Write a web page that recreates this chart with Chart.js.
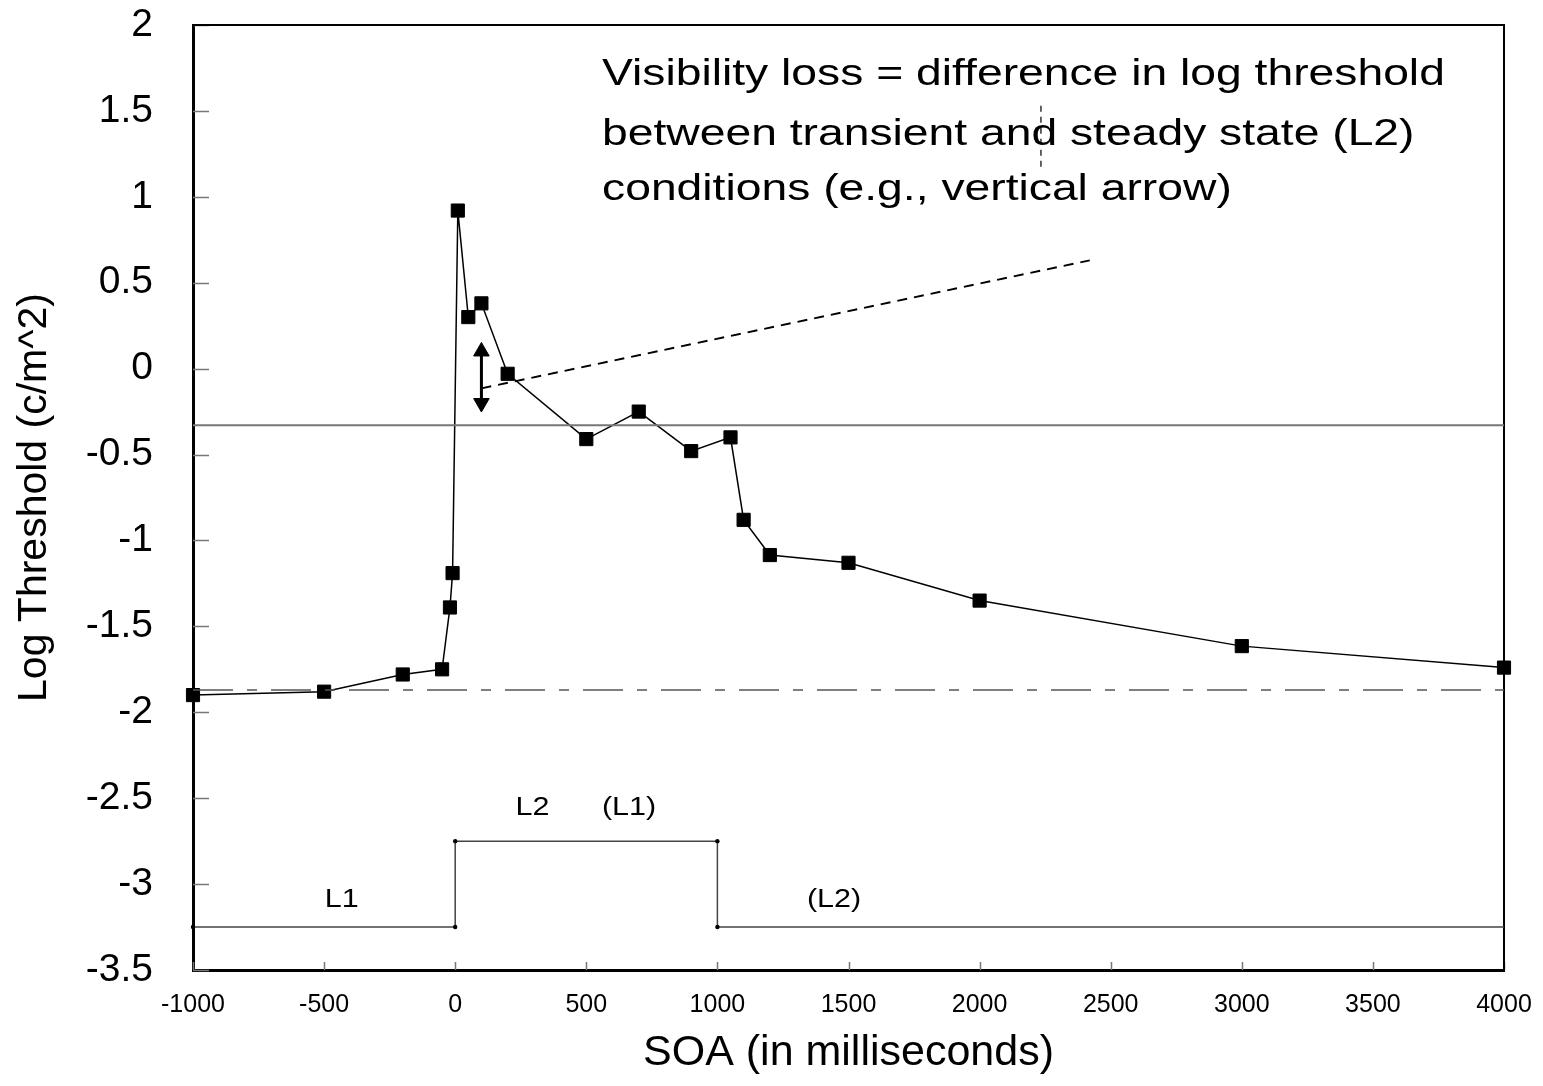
<!DOCTYPE html>
<html>
<head>
<meta charset="utf-8">
<script src="https://cdn.jsdelivr.net/npm/chart.js@4.4.1/dist/chart.umd.min.js"></script>
<style>
  html, body { margin: 0; padding: 0; background: #fff; }
  #wrap { width: 1543px; height: 1086px; }
</style>
</head>
<body>
<div id="wrap"><canvas id="chart"></canvas></div>
<script>
// measured threshold curve
const soa = [-1000, -500, -200, -50, -20, -10, 10, 50, 100, 200, 500, 700, 900, 1050, 1100, 1200, 1500, 2000, 3000, 4000];
const logThreshold = [-1.90, -1.88, -1.78, -1.75, -1.39, -1.19, 0.92, 0.30, 0.38, -0.03, -0.41, -0.25, -0.48, -0.40, -0.88, -1.085, -1.13, -1.35, -1.615, -1.74];

// stimulus time course (L1 / L2 step)
const stimulusX = [-1000, 0, 0, 1000, 1000, 4000];
const stimulusY = [-3.25, -3.25, -2.75, -2.75, -3.25, -3.25];

// reference lines
const steadyLevel = -0.33;
const baselineLevel = -1.87;
const trendX = [100, 2420];
const trendY = [-0.115, 0.63];
const arrowX = [100, 100];
const arrowY = [0.10, -0.20];
const markX = [2234, 2234];
const markY = [1.53, 1.17];

const xTicks = [-1000, -500, 0, 500, 1000, 1500, 2000, 2500, 3000, 3500, 4000];
const yTicks = [2, 1.5, 1, 0.5, 0, -0.5, -1, -1.5, -2, -2.5, -3, -3.5];

const noteLines = [
  "Visibility loss = difference in log threshold",
  "between transient and steady state (L2)",
  "conditions (e.g., vertical arrow)"
];
const noteX = 560;
const noteY = [1.65, 1.30, 0.98];

const stepLabels = ["L1", "L2", "(L1)", "(L2)"];
const stepLabelX = [-433, 295, 663, 1445];
const stepLabelY = [-3.135, -2.60, -2.60, -3.135];

const FONT = '"Liberation Sans", Arial, sans-serif';
Chart.defaults.font.family = FONT;
Chart.defaults.color = '#000';

const pts = (xs, ys) => xs.map((v, i) => ({ x: v, y: ys[i] }));

function drawStretched(ctx, text, x, y, size, sx, align) {
  ctx.save();
  ctx.font = size + 'px ' + FONT;
  ctx.fillStyle = '#000';
  ctx.textBaseline = 'alphabetic';
  ctx.translate(x, y);
  ctx.scale(sx, 1);
  const w = ctx.measureText(text).width;
  ctx.fillText(text, align === 'center' ? -w / 2 : 0, 0);
  ctx.restore();
}

const framePlugin = {
  id: 'frame',
  beforeDatasetsDraw(chart) {
    const { ctx, chartArea: a, scales: { x, y } } = chart;
    ctx.save();
    ctx.strokeStyle = '#777';
    ctx.lineWidth = 1.5;
    ctx.beginPath();
    y.ticks.forEach(t => {
      const py = Math.round(y.getPixelForValue(t.value)) + 0.5;
      ctx.moveTo(a.left, py);
      ctx.lineTo(a.left + 16, py);
    });
    x.ticks.forEach(t => {
      const px = Math.round(x.getPixelForValue(t.value)) + 0.5;
      ctx.moveTo(px, a.bottom);
      ctx.lineTo(px, a.bottom - 8);
    });
    ctx.stroke();
    ctx.strokeStyle = '#000';
    ctx.lineWidth = 2;
    ctx.beginPath();
    ctx.moveTo(a.left, a.top);
    ctx.lineTo(a.right, a.top);
    ctx.lineTo(a.right, a.bottom);
    ctx.stroke();
    ctx.restore();
  },
  afterDatasetsDraw(chart) {
    const { ctx, scales: { x, y } } = chart;
    noteLines.forEach((t, i) => {
      drawStretched(ctx, t, x.getPixelForValue(noteX), y.getPixelForValue(noteY[i]), 37, 1.25, 'left');
    });
    stepLabels.forEach((t, i) => {
      drawStretched(ctx, t, x.getPixelForValue(stepLabelX[i]), y.getPixelForValue(stepLabelY[i]), 25, 1.22, 'center');
    });
  }
};

new Chart(document.getElementById('chart'), {
  type: 'line',
  data: {
    datasets: [
      {
        data: pts([-1000, 4000], [steadyLevel, steadyLevel]),
        borderColor: '#777', borderWidth: 2, pointRadius: 0
      },
      {
        data: pts([-1000, 4000], [baselineLevel, baselineLevel]),
        borderColor: '#555', borderWidth: 1.5, borderDash: [40, 14, 10, 14], pointRadius: 0
      },
      {
        data: pts(trendX, trendY),
        borderColor: '#000', borderWidth: 2, borderDash: [10, 7], pointRadius: 0
      },
      {
        data: pts(markX, markY),
        borderColor: '#000', borderWidth: 1.2, borderDash: [6, 5], pointRadius: 0
      },
      {
        data: pts(arrowX, arrowY),
        borderColor: '#000', borderWidth: 3,
        pointStyle: 'triangle', pointRotation: [0, 180], pointRadius: 9,
        pointBackgroundColor: '#000', pointBorderColor: '#000', pointBorderWidth: 1
      },
      {
        data: pts(stimulusX, stimulusY),
        borderColor: '#444', borderWidth: 1.5,
        pointRadius: [2.2, 2.2, 2.2, 2.2, 2.2, 0], pointBackgroundColor: '#000', pointBorderWidth: 0,
        clip: false
      },
      {
        data: pts(soa, logThreshold),
        borderColor: '#000', borderWidth: 1.5,
        pointStyle: 'rect', pointRadius: 9.3,
        pointBackgroundColor: '#000', pointBorderColor: '#000', pointBorderWidth: 1,
        clip: false
      }
    ]
  },
  options: {
    responsive: true,
    maintainAspectRatio: false,
    animation: false,
    events: [],
    layout: { padding: { top: 25, right: 39, bottom: 0, left: 0 } },
    plugins: { legend: { display: false }, tooltip: { enabled: false } },
    scales: {
      x: {
        type: 'linear',
        min: -1000, max: 4000,
        afterBuildTicks: s => { s.ticks = xTicks.map(v => ({ value: v })); },
        afterFit: s => { s.height = 116; s.paddingLeft = 0; s.paddingRight = 0; },
        grid: { display: false, drawTicks: false },
        border: { color: '#000', width: 3 },
        ticks: { font: { size: 25 }, padding: 20, maxRotation: 0, autoSkip: false, callback: v => String(v) },
        title: { display: true, text: 'SOA (in milliseconds)', font: { size: 43 }, padding: { top: 0, bottom: 7 } }
      },
      y: {
        type: 'linear',
        min: -3.5, max: 2,
        afterBuildTicks: s => { s.ticks = yTicks.map(v => ({ value: v })); },
        afterFit: s => { s.width = 193; s.paddingTop = 0; s.paddingBottom = 0; },
        grid: { display: false, drawTicks: false },
        border: { color: '#000', width: 3 },
        ticks: { font: { size: 39 }, padding: 40, autoSkip: false, callback: v => String(v) },
        title: { display: true, text: 'Log Threshold (c/m^2)', font: { size: 41 }, padding: { top: 10, bottom: 0 } }
      }
    }
  },
  plugins: [framePlugin]
});
</script>
</body>
</html>
